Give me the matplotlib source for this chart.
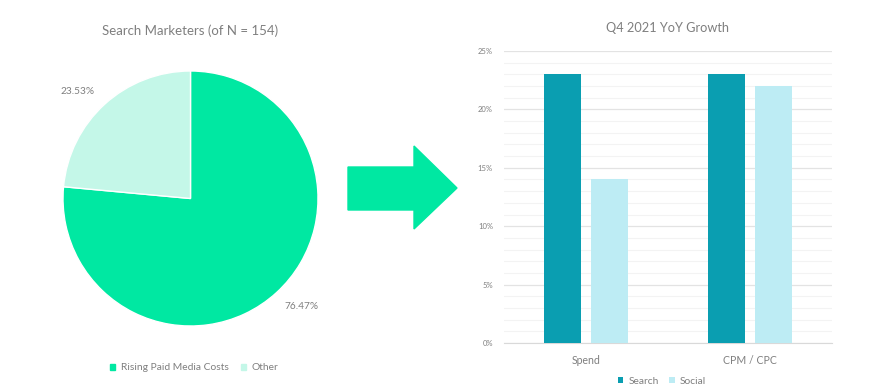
import matplotlib
matplotlib.use("Agg")
import matplotlib.pyplot as plt
from matplotlib.patches import Polygon, Patch
import numpy as np

# pie data
pie_labels = ['Rising Paid Media Costs', 'Other']
pie_values = [76.47, 23.53]
pie_colors = ['#00E8A2', '#C4F7E8']

# bar data
categories = ['Spend', 'CPM / CPC']
search_vals = [23, 23]
social_vals = [14, 22]
bar_colors = ['#0A9EB1', '#BDECF4']

txt = '#7F7F7F'
plt.rcParams['font.family'] = ['Lato', 'DejaVu Sans']

W, H = 882, 389
fig = plt.figure(figsize=(W / 100, H / 100), dpi=100)


def box(x0, y0, x1, y1):
    # pixel box (top-left origin) -> figure fraction
    return [x0 / W, 1 - y1 / H, (x1 - x0) / W, (y1 - y0) / H]


# ---- pie ----
ax1 = fig.add_axes(box(63, 71, 318, 326))
wedges, _ = ax1.pie(pie_values, colors=pie_colors, startangle=90, counterclock=False,
                    wedgeprops=dict(edgecolor='white', linewidth=1))
ax1.set_aspect('equal')
ax1.set_xlim(-1, 1)
ax1.set_ylim(-1, 1)
# percentage labels outside the wedges
for w, v, a in zip(wedges, pie_values, [-44.2, 136.5]):
    ang = np.deg2rad(a)
    ax1.text(1.22 * np.cos(ang), 1.22 * np.sin(ang), f'{v:.2f}%', ha='center', va='center',
             fontsize=7.3, color=txt)
fig.text(190 / W, 1 - 31 / H, 'Search Marketers (of N = 154)', ha='center', va='center',
         fontsize=9.5, color=txt)
fig.legend(handles=[Patch(color=c, label=l) for c, l in zip(pie_colors, pie_labels)],
           loc='center', bbox_to_anchor=(194 / W, 1 - 368 / H), ncol=2, frameon=False,
           fontsize=7.4, labelcolor=txt, handlelength=0.55, handleheight=0.55,
           handletextpad=0.5, columnspacing=1.2)

# ---- arrow ----
arrow_px = [(348, 167), (414, 167), (414, 146), (457, 188), (414, 229), (414, 210), (348, 210)]
fig.patches.append(Polygon([(x / W, 1 - y / H) for x, y in arrow_px], closed=True,
                           transform=fig.transFigure, color='#00E8A2'))

# ---- bars ----
ax2 = fig.add_axes(box(504, 51, 832, 343))
x = np.arange(len(categories))
bw = 0.225
ax2.bar(x - 0.143, search_vals, bw, color=bar_colors[0], label='Search', zorder=3)
ax2.bar(x + 0.143, social_vals, bw, color=bar_colors[1], label='Social', zorder=3)
ax2.set_xlim(-0.5, 1.5)
ax2.set_ylim(0, 25)
ax2.set_yticks(range(0, 26, 5))
ax2.set_yticklabels([f'{v}%' for v in range(0, 26, 5)], fontsize=5.5, color=txt)
ax2.set_yticks(range(0, 26), minor=True)
ax2.grid(axis='y', which='major', color='#E3E3E3', linewidth=0.9, zorder=0)
ax2.grid(axis='y', which='minor', color='#F3F3F3', linewidth=0.8, zorder=0)
ax2.set_xticks(x)
ax2.set_xticklabels(categories, fontsize=7.6, color=txt)
ax2.tick_params(length=0, pad=9)
ax2.tick_params(axis='y', pad=8)
ax2.tick_params(axis='y', which='minor', length=0)
for s in ['top', 'right', 'left']:
    ax2.spines[s].set_visible(False)
ax2.spines['bottom'].set_color('#D9D9D9')
ax2.set_title('Q4 2021 YoY Growth', fontsize=9.2, color=txt, pad=14)
fig.legend(*ax2.get_legend_handles_labels(), loc='center', bbox_to_anchor=(662 / W, 1 - 381 / H),
           ncol=2, frameon=False, fontsize=7.4, labelcolor=txt, handlelength=0.55,
           handleheight=0.55, handletextpad=0.5, columnspacing=1.0)

fig.savefig('out.png', dpi=100, facecolor='white')
